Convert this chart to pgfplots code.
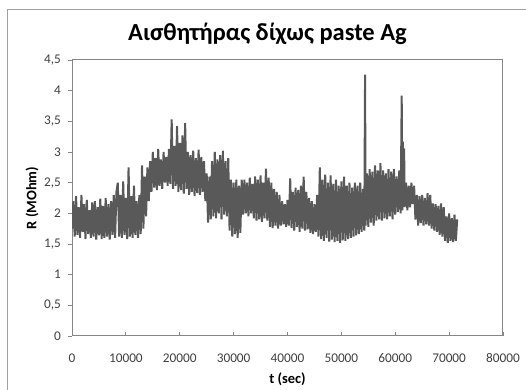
\documentclass[border=0pt]{standalone}
\usepackage{fontspec}
\setmainfont{Carlito}
\usepackage{pgfplots}
\pgfplotsset{compat=1.18}

\definecolor{seriesgray}{RGB}{89,89,89}
\definecolor{axisgray}{RGB}{134,134,134}
\definecolor{framegray}{RGB}{160,160,160}

\begin{document}
\begin{tikzpicture}
\useasboundingbox (0,0) rectangle (526bp,390bp);
% chart frame (left and top edges)
\draw[framegray, line width=1bp] (7.5bp,0) -- (7.5bp,380.5bp) -- (526bp,380.5bp);
\begin{axis}[
  at={(72bp,54bp)}, anchor=south west,
  scale only axis,
  width=431bp, height=276bp,
  xmin=0, xmax=80000, ymin=0, ymax=4.5,
  xtick={0,10000,...,80000},
  ytick={0,0.5,...,4.5},
  xtick pos=bottom, ytick pos=left,
  tick align=inside,
  major tick length=3.5bp,
  ytick style={xshift=-3.5bp, axisgray, line width=0.8bp},
  xtick style={axisgray, line width=0.8bp},
  axis line style={axisgray, line width=1bp},
  scaled x ticks=false, scaled y ticks=false,
  /pgf/number format/.cd, use comma, 1000 sep={}, assume math mode=true,
  /pgfplots/.cd,
  tick label style={font=\fontsize{13.3bp}{15bp}\selectfont, text=black!75},
  xticklabel style={anchor=center, yshift=-22bp},
  yticklabel style={anchor=east, xshift=-7.5bp},
  title={Αισθητήρας δίχως paste Ag},
  title style={font=\fontsize{24.5bp}{28bp}\selectfont\bfseries, anchor=base,
    at={(axis description cs:0.4536,1.0507)}},
  xlabel={t (sec)},
  xlabel style={font=\fontsize{14.5bp}{16bp}\selectfont\bfseries, anchor=center,
    at={(axis description cs:0.5,-0.1558)}},
  ylabel={R (MOhm)},
  ylabel style={font=\fontsize{14.5bp}{16bp}\selectfont\bfseries, anchor=center,
    at={(axis description cs:-0.0928,0.5)}},
]
\addplot[seriesgray, line width=2bp, line join=miter, miter limit=2] coordinates {
(0,1.75)(250,2.2)(500,1.62)(750,2.28)(1000,1.65)(1250,2.1)(1500,1.6)(1750,2.3)(2000,1.7)
(2250,2.15)(2500,1.58)(2750,2.22)(3000,1.66)(3250,2.05)(3500,1.6)(3750,2.18)(4000,1.62)
(4250,2.2)(4500,1.57)(4750,2.1)(5000,1.64)(5250,2.24)(5500,1.58)(5750,2.12)(6000,1.6)
(6250,2.25)(6500,1.62)(6750,2.15)(7000,1.57)(7250,2.2)(7500,1.65)(7750,2.3)(8000,1.6)
(8250,2.35)(8500,2.5)(8750,1.62)(9000,2.3)
(9250,1.6)(9500,2.52)(9750,1.65)(10000,2.25)(10250,1.58)(10500,2.75)
(10750,1.62)(11000,2.28)(11250,1.6)(11500,2.45)(11750,1.65)(12000,2.2)(12250,1.6)(12500,2.3)
(12750,1.66)(13000,2.78)(13250,1.75)(13500,2.6)
(13750,1.95)(14000,2.75)(14250,2.2)(14500,2.85)
(14750,2.35)(15000,3.0)(15250,2.42)(15500,2.9)(15750,2.38)(16000,3.05)(16250,2.45)(16500,2.88)
(16750,2.4)(17000,3.0)(17250,2.5)(17500,2.92)(17750,2.45)(18000,3.05)(18250,2.48)
(18500,3.53)(18750,2.4)(19000,3.1)(19250,2.45)(19500,3.42)(19750,2.35)(20000,3.15)(20250,2.38)
(20500,3.27)(20750,2.32)(21000,3.47)(21250,2.4)(21500,3.0)
(21750,2.3)(22000,2.95)(22250,2.35)(22500,3.02)(22750,2.28)(23000,2.9)(23250,2.33)(23500,3.04)
(23750,2.3)(24000,2.92)(24250,2.35)(24500,2.85)(24750,2.2)
(25000,2.65)(25250,1.85)(25500,2.6)(25750,1.9)
(26000,2.85)(26250,1.95)(26500,3.0)(26750,1.92)(27000,2.88)(27250,2.0)(27500,2.95)(27750,1.9)
(28000,3.02)(28250,1.98)(28500,2.85)(28750,1.95)(29000,2.9)
(29250,1.72)(29500,2.55)(29750,1.62)(30000,2.5)(30250,1.66)(30500,2.55)(30750,1.6)(31000,2.45)
(31250,1.68)(31500,2.55)
(31750,1.98)(32000,2.55)(32250,2.0)(32500,2.5)(32750,1.95)(33000,2.58)(33250,2.0)(33500,2.48)(33750,1.92)
(34000,2.6)(34250,1.88)(34500,2.55)(34750,1.9)(35000,2.62)(35250,1.86)(35500,2.5)(35750,1.92)
(36000,2.73)(36250,1.88)(36500,2.58)
(36750,1.78)(37000,2.5)(37250,1.76)(37500,2.4)(37750,1.8)(38000,2.35)(38250,1.75)(38500,2.3)
(38750,1.8)(39000,2.2)(39250,1.82)(39500,2.15)(39750,1.78)(40000,2.22)(40250,1.8)(40500,2.57)
(40750,1.76)(41000,2.35)(41250,1.72)(41500,2.42)(41750,1.78)(42000,2.38)(42250,1.7)(42500,2.45)
(42750,1.75)(43000,2.6)(43250,1.72)(43500,2.35)(43750,1.74)
(44000,2.25)(44250,1.68)(44500,2.2)(44750,1.66)(45000,2.15)(45250,1.7)(45500,2.3)
(45750,1.62)(46000,2.75)
(46250,1.58)(46500,2.55)(46750,1.55)(47000,2.63)(47250,1.6)(47500,2.5)(47750,1.54)(48000,2.62)
(48250,1.57)(48500,2.48)(48750,1.53)(49000,2.55)(49250,1.55)(49500,2.45)(49750,1.52)(50000,2.52)
(50250,1.56)(50500,2.6)(50750,1.55)
(51000,2.45)(51250,1.58)(51500,2.5)(51750,1.6)(52000,2.42)(52250,1.62)(52500,2.5)(52750,1.64)
(53000,2.45)(53250,1.66)(53500,2.5)(53750,1.7)
(54000,2.4)(54250,1.72)(54400,4.26)(54500,1.8)
(54750,2.65)(55000,1.78)(55250,2.72)(55500,1.85)(55750,2.68)(56000,1.8)(56250,2.78)(56500,1.88)
(56750,2.7)(57000,1.9)(57250,2.82)
(57500,1.88)(57750,2.7)(58000,1.92)(58250,2.65)(58500,1.9)(58750,2.72)(59000,1.95)(59250,2.68)
(59500,1.9)(59750,2.72)(60000,1.98)
(60250,2.6)(60500,2.02)(60750,2.7)(61000,2.0)
(61200,3.92)(61300,2.05)(61400,3.17)(61500,2.1)(61650,3.06)(61750,2.1)
(62000,2.5)(62250,2.05)(62500,2.45)(62750,2.1)(63000,2.5)(63250,2.15)(63500,2.45)
(63750,1.9)(64000,2.3)(64250,1.8)(64500,2.28)(64750,1.84)(65000,2.3)(65250,1.8)(65500,2.25)(65750,1.82)
(66000,2.33)(66250,1.8)(66500,2.3)(66750,1.75)
(67000,2.16)(67250,1.72)(67500,2.15)(67750,1.7)(68000,2.12)(68250,1.65)(68500,2.16)(68750,1.62)(69000,2.1)
(69250,1.55)(69500,1.95)(69750,1.52)(70000,2.0)(70250,1.55)(70500,1.92)(70750,1.53)(71000,1.98)
(71250,1.55)(71500,1.9)
};
\end{axis}
\end{tikzpicture}
\end{document}
